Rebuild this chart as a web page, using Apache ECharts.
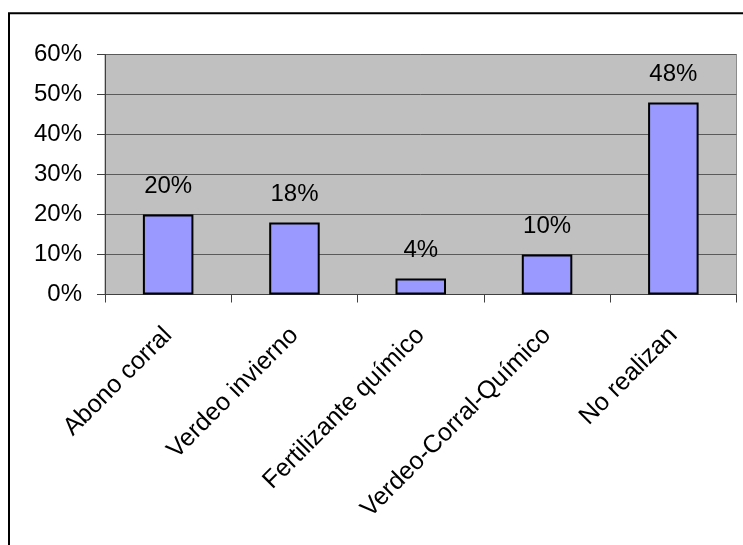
<!DOCTYPE html>
<html>
<head>
<meta charset="utf-8">
<script src="https://cdn.jsdelivr.net/npm/echarts@6/dist/echarts.min.js"></script>
<style>
  html, body { margin: 0; padding: 0; background: #fff; }
  #chart { width: 743px; height: 545px; }
</style>
</head>
<body>
<div id="chart"></div>
<script>
// Practice categories and share of producers (percent)
const categories = ['Abono corral', 'Verdeo invierno', 'Fertilizante químico', 'Verdeo-Corral-Químico', 'No realizan'];
const shares = [20, 18, 4, 10, 48];
const yTicks = [0, 10, 20, 30, 40, 50, 60];

const FONT = "'Liberation Sans', Arial, sans-serif";
const chart = echarts.init(document.getElementById('chart'), null, { renderer: 'canvas' });

chart.setOption({
  backgroundColor: '#ffffff',
  animation: false,
  graphic: [{
    type: 'rect',
    shape: { x: 9, y: 13.3, width: 740, height: 540 },
    style: { fill: 'none', stroke: '#000', lineWidth: 2 },
    silent: true
  }],
  grid: {
    left: 105, top: 54.5, right: 6.5, bottom: 250.5,
    show: true, backgroundColor: '#c0c0c0', borderColor: '#8c8c8c', borderWidth: 1
  },
  xAxis: {
    type: 'category',
    data: categories,
    axisLine: { show: true, lineStyle: { color: '#404040', width: 1 } },
    axisTick: { show: true, length: 8, lineStyle: { color: '#404040' } },
    axisLabel: {
      interval: 0, rotate: 45, margin: 37,
      fontFamily: FONT, fontSize: 25, color: '#000'
    },
    splitLine: { show: false }
  },
  yAxis: {
    type: 'value',
    min: yTicks[0], max: yTicks[yTicks.length - 1], interval: 10,
    axisLine: { show: true, lineStyle: { color: '#404040', width: 1 } },
    axisTick: { show: true, length: 8, lineStyle: { color: '#404040' } },
    axisLabel: {
      margin: 23, fontFamily: FONT, fontSize: 24, color: '#000',
      formatter: v => v + '%'
    },
    splitLine: { show: true, lineStyle: { color: '#5a5a5a', width: 1 } }
  },
  series: [{
    type: 'bar',
    data: shares,
    barWidth: '40%',
    itemStyle: { color: '#9999ff', borderColor: '#000', borderWidth: 2 },
    label: {
      show: true, position: 'top', distance: 16,
      fontFamily: FONT, fontSize: 24, color: '#000',
      formatter: p => p.value + '%'
    }
  }]
});
</script>
</body>
</html>
